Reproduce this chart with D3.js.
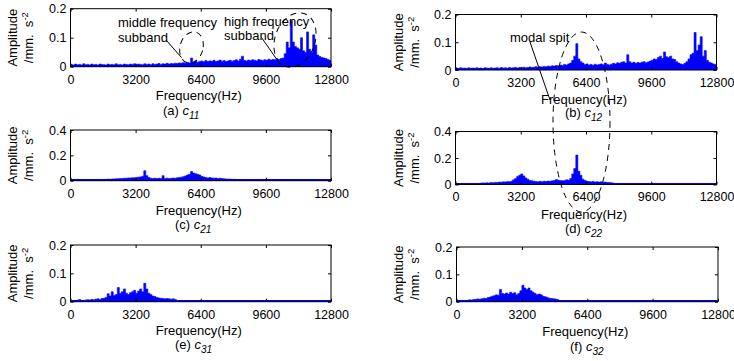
<!DOCTYPE html>
<html>
<head>
<meta charset="utf-8">
<script src="https://cdn.jsdelivr.net/npm/d3@7"></script>
<style>
body { margin: 0; background: #fff; }
svg { display: block; font-family: "Liberation Sans", Arial, sans-serif; }
</style>
</head>
<body>
<svg id="fig" width="734" height="361"></svg>
<script>
// spectrum amplitudes, one value per 100 Hz bin (0 - 12800 Hz)
var binHz = 100;
var freqTicks = [0, 3200, 6400, 9600, 12800];
var ampTicksLow = [0, 0.1, 0.2];
var ampTicksHigh = [0, 0.2, 0.4];

var c11 = [
  0.008,0.006,0.009,0.007,0.008,0.006,0.010,0.007,0.008,0.006,0.009,0.007,0.008,0.006,0.009,0.008,
  0.007,0.006,0.009,0.007,0.008,0.007,0.010,0.007,0.008,0.006,0.009,0.008,0.007,0.009,0.008,0.010,
  0.007,0.009,0.008,0.007,0.010,0.008,0.009,0.007,0.010,0.008,0.009,0.011,0.008,0.010,0.009,0.012,
  0.009,0.011,0.010,0.012,0.011,0.013,0.012,0.014,0.012,0.015,0.013,0.030,0.016,0.020,0.015,0.018,
  0.020,0.017,0.021,0.018,0.020,0.019,0.022,0.018,0.020,0.023,0.019,0.021,0.018,0.020,0.022,0.019,
  0.021,0.024,0.020,0.026,0.036,0.022,0.020,0.023,0.021,0.024,0.022,0.020,0.025,0.023,0.021,0.024,
  0.022,0.026,0.023,0.025,0.024,0.027,0.025,0.028,0.030,0.045,0.085,0.065,0.160,0.085,0.070,0.065,
  0.060,0.100,0.055,0.050,0.120,0.060,0.050,0.110,0.075,0.040,0.035,0.032,0.030,0.028,0.025,0.022
];
var c12 = [
  0.007,0.005,0.008,0.006,0.007,0.005,0.008,0.006,0.007,0.006,0.008,0.006,0.007,0.005,0.008,0.007,
  0.006,0.008,0.006,0.007,0.008,0.006,0.009,0.007,0.008,0.006,0.009,0.007,0.008,0.009,0.007,0.009,
  0.008,0.010,0.008,0.009,0.011,0.009,0.010,0.012,0.010,0.012,0.011,0.013,0.012,0.014,0.013,0.015,
  0.014,0.016,0.015,0.018,0.016,0.020,0.018,0.022,0.025,0.035,0.050,0.095,0.040,0.030,0.025,0.020,
  0.022,0.018,0.020,0.017,0.021,0.018,0.020,0.022,0.019,0.025,0.020,0.018,0.021,0.024,0.022,0.026,
  0.024,0.028,0.030,0.025,0.055,0.030,0.025,0.028,0.024,0.027,0.025,0.028,0.030,0.026,0.029,0.032,
  0.035,0.040,0.038,0.045,0.050,0.042,0.065,0.048,0.045,0.050,0.040,0.038,0.030,0.025,0.022,0.020,
  0.024,0.030,0.040,0.055,0.060,0.135,0.070,0.090,0.120,0.050,0.070,0.035,0.028,0.025,0.022,0.020
];
var c21 = [
  0.003,0.003,0.004,0.003,0.003,0.004,0.003,0.003,0.004,0.003,0.003,0.004,0.003,0.003,0.004,0.003,
  0.004,0.010,0.012,0.011,0.013,0.014,0.015,0.016,0.018,0.017,0.020,0.019,0.022,0.021,0.024,0.023,
  0.026,0.028,0.030,0.035,0.078,0.040,0.025,0.020,0.018,0.020,0.017,0.019,0.018,0.040,0.018,0.020,
  0.017,0.019,0.021,0.020,0.023,0.025,0.028,0.032,0.038,0.045,0.050,0.072,0.060,0.055,0.050,0.045,
  0.035,0.030,0.025,0.022,0.025,0.022,0.020,0.021,0.018,0.020,0.017,0.015,0.014,0.012,0.013,0.010,
  0.011,0.008,0.003,0.003,0.004,0.003,0.003,0.004,0.003,0.003,0.004,0.003,0.003,0.004,0.003,0.003,
  0.004,0.003,0.003,0.004,0.003,0.003,0.004,0.003,0.003,0.004,0.003,0.003,0.004,0.003,0.003,0.004,
  0.003,0.003,0.004,0.003,0.003,0.004,0.003,0.003,0.004,0.003,0.003,0.004,0.003,0.003,0.004,0.003
];
var c22 = [
  0.003,0.003,0.004,0.003,0.003,0.004,0.003,0.003,0.004,0.003,0.003,0.004,0.010,0.012,0.011,0.013,
  0.012,0.015,0.014,0.016,0.015,0.018,0.017,0.020,0.019,0.022,0.020,0.025,0.035,0.045,0.060,0.070,
  0.080,0.065,0.050,0.040,0.030,0.028,0.025,0.022,0.020,0.024,0.021,0.025,0.022,0.026,0.024,0.028,
  0.030,0.037,0.032,0.030,0.028,0.030,0.035,0.032,0.045,0.080,0.120,0.222,0.100,0.070,0.040,0.030,
  0.025,0.022,0.020,0.023,0.019,0.021,0.018,0.020,0.017,0.018,0.015,0.016,0.013,0.010,0.003,0.003,
  0.004,0.003,0.003,0.004,0.003,0.003,0.004,0.003,0.003,0.004,0.003,0.003,0.004,0.003,0.003,0.004,
  0.003,0.003,0.004,0.003,0.003,0.004,0.003,0.003,0.004,0.003,0.003,0.004,0.003,0.003,0.004,0.003,
  0.003,0.004,0.003,0.003,0.004,0.003,0.003,0.004,0.003,0.003,0.004,0.003,0.003,0.004,0.003,0.003
];
var c31 = [
  0.004,0.004,0.004,0.005,0.008,0.004,0.004,0.006,0.007,0.006,0.008,0.007,0.009,0.010,0.008,0.011,
  0.012,0.015,0.028,0.020,0.035,0.022,0.025,0.050,0.030,0.035,0.045,0.030,0.025,0.032,0.035,0.040,
  0.030,0.038,0.045,0.035,0.065,0.045,0.030,0.025,0.020,0.018,0.015,0.013,0.012,0.011,0.010,0.011,
  0.010,0.009,0.010,0.008,0.004,0.004,0.004,0.004,0.004,0.004,0.004,0.004,0.004,0.004,0.004,0.004,
  0.004,0.004,0.004,0.004,0.004,0.004,0.004,0.004,0.004,0.004,0.004,0.004,0.004,0.004,0.004,0.004,
  0.004,0.004,0.004,0.004,0.004,0.004,0.004,0.004,0.004,0.004,0.004,0.004,0.004,0.004,0.004,0.004,
  0.004,0.004,0.004,0.004,0.004,0.004,0.004,0.004,0.004,0.004,0.004,0.004,0.004,0.004,0.004,0.004,
  0.004,0.004,0.004,0.004,0.004,0.004,0.004,0.004,0.004,0.004,0.004,0.004,0.004,0.004,0.004,0.004
];
var c32 = [
  0.004,0.004,0.004,0.004,0.004,0.005,0.007,0.006,0.008,0.009,0.010,0.009,0.011,0.013,0.012,0.015,
  0.017,0.020,0.022,0.025,0.024,0.045,0.030,0.028,0.032,0.028,0.035,0.030,0.033,0.025,0.030,0.040,
  0.060,0.050,0.045,0.050,0.040,0.035,0.030,0.025,0.028,0.025,0.020,0.018,0.015,0.013,0.012,0.011,
  0.010,0.008,0.004,0.004,0.004,0.004,0.004,0.004,0.004,0.004,0.004,0.004,0.004,0.004,0.004,0.004,
  0.004,0.004,0.004,0.004,0.004,0.004,0.004,0.004,0.004,0.004,0.004,0.004,0.004,0.004,0.004,0.004,
  0.004,0.004,0.004,0.004,0.004,0.004,0.004,0.004,0.004,0.004,0.004,0.004,0.004,0.004,0.004,0.004,
  0.004,0.004,0.004,0.004,0.004,0.004,0.004,0.004,0.004,0.004,0.004,0.004,0.004,0.004,0.004,0.004,
  0.004,0.004,0.004,0.004,0.004,0.004,0.004,0.004,0.004,0.004,0.004,0.004,0.004,0.004,0.004,0.004
];

// panel layout (pixels)
var panels = [
  { tag: 'a', sub: '11', data: c11, ymax: 0.2, ticks: ampTicksLow,  l: 70.5, r: 331, t: 8.7,  b: 66.7, fy: 95.2,  cy: 110, cx: 163, yl: 12.5 },
  { tag: 'b', sub: '12', data: c12, ymax: 0.2, ticks: ampTicksLow,  l: 455.5, r: 716.5, t: 14.5, b: 70, fy: 99,  cy: 112.5, cx: 565, yl: 398 },
  { tag: 'c', sub: '21', data: c21, ymax: 0.4, ticks: ampTicksHigh, l: 70.5, r: 331, t: 130, b: 180.7, fy: 210.7, cy: 224.5, cx: 175, yl: 12.5 },
  { tag: 'd', sub: '22', data: c22, ymax: 0.4, ticks: ampTicksHigh, l: 455.5, r: 716.5, t: 131.5, b: 184.5, fy: 214, cy: 228, cx: 565, yl: 398 },
  { tag: 'e', sub: '31', data: c31, ymax: 0.2, ticks: ampTicksLow,  l: 70.5, r: 331, t: 245, b: 301.7, fy: 330, cy: 344.5, cx: 175, yl: 12.5 },
  { tag: 'f', sub: '32', data: c32, ymax: 0.2, ticks: ampTicksLow,  l: 456.5, r: 718, t: 247, b: 301.7, fy: 331.7, cy: 346, cx: 570, yl: 398 }
];

var svg = d3.select('#fig');
var blue = '#0000ff';

panels.forEach(function (p, k) { create_panel(p, k); });

function create_panel(p, k) {
  var x = d3.scaleLinear().domain([0, 12800]).range([p.l, p.r]);
  var y = d3.scaleLinear().domain([0, p.ymax]).range([p.b, p.t]);

  svg.append('clipPath').attr('id', 'clip' + k)
    .append('rect').attr('x', p.l).attr('y', p.t).attr('width', p.r - p.l).attr('height', p.b - p.t);

  var g = svg.append('g').attr('clip-path', 'url(#clip' + k + ')');

  // spectrum: one solid step per 100 Hz bin
  var pts = p.data.map(function (v, i) { return { f: i * binHz, v: v }; });
  pts.push({ f: 12800, v: p.data[p.data.length - 1] });
  g.append('path')
    .datum(pts)
    .attr('fill', blue)
    .attr('stroke', blue)
    .attr('stroke-width', 0.6)
    .attr('d', d3.area().curve(d3.curveStepAfter)
      .x(function (d) { return x(d.f); })
      .y0(y(0))
      .y1(function (d) { return y(d.v); }));

  // noise floor line along the bottom
  g.append('line')
    .attr('x1', x(0)).attr('x2', x(12800))
    .attr('y1', y(0) - 0.8).attr('y2', y(0) - 0.8)
    .attr('stroke', blue).attr('stroke-width', 1.6);

  var fmt = function (d) { return d === 0 ? '0' : String(d); };

  svg.append('g').attr('transform', 'translate(0,' + p.b + ')')
    .call(d3.axisBottom(x).tickValues(freqTicks).tickFormat(d3.format('d')).tickSizeInner(-3).tickSizeOuter(0).tickPadding(8))
    .call(style_axis);
  svg.append('g').attr('transform', 'translate(0,' + p.t + ')')
    .call(d3.axisTop(x).tickValues(freqTicks).tickSizeInner(-3).tickSizeOuter(0).tickFormat(''))
    .call(style_axis);
  svg.append('g').attr('transform', 'translate(' + p.l + ',0)')
    .call(d3.axisLeft(y).tickValues(p.ticks).tickFormat(fmt).tickSizeInner(-3).tickSizeOuter(0).tickPadding(4))
    .call(style_axis);
  svg.append('g').attr('transform', 'translate(' + p.r + ',0)')
    .call(d3.axisRight(y).tickValues(p.ticks).tickSizeInner(-3).tickSizeOuter(0).tickFormat(''))
    .call(style_axis);

  svg.append('rect')
    .attr('x', p.l).attr('y', p.t).attr('width', p.r - p.l).attr('height', p.b - p.t)
    .attr('fill', 'none').attr('stroke', '#000').attr('stroke-width', 1);

  svg.append('text')
    .attr('x', (p.l + p.r) / 2 - 2).attr('y', p.fy).attr('dy', '0.35em')
    .attr('text-anchor', 'middle').style('font-size', '13px')
    .text('Frequency(Hz)');

  var cap = svg.append('text').attr('x', p.cx).attr('y', p.cy).attr('dy', '0.35em').style('font-size', '13px');
  cap.append('tspan').text('(' + p.tag + ') ');
  cap.append('tspan').style('font-style', 'italic').text('c');
  cap.append('tspan').style('font-style', 'italic').style('font-size', '10px').attr('dy', '4').text(p.sub);

  var my = (p.t + p.b) / 2;
  svg.append('text')
    .attr('transform', 'translate(' + p.yl + ',' + my + ') rotate(-90)')
    .attr('dy', '0.35em').attr('text-anchor', 'middle').style('font-size', '13px')
    .text('Amplitude');
  var u = svg.append('text')
    .attr('transform', 'translate(' + (p.yl + 16) + ',' + my + ') rotate(-90)')
    .attr('dy', '0.35em').attr('text-anchor', 'middle').style('font-size', '13px');
  u.append('tspan').text('/mm.\u00a0\u00a0s');
  u.append('tspan').attr('dy', '-5').style('font-size', '9.5px').text('-2');
}

function style_axis(sel) {
  sel.select('.domain').remove();
  sel.selectAll('.tick line').attr('stroke', '#000');
  sel.selectAll('.tick text').attr('fill', '#000')
    .style('font-size', '12.5px').style('font-family', '"Liberation Sans", Arial, sans-serif');
}

// annotations
var notes = [
  { x: 118, y: 27, s: 'middle frequency' },
  { x: 118, y: 42, s: 'subband' },
  { x: 224, y: 25.5, s: 'high frequency' },
  { x: 224, y: 39.5, s: 'subband' },
  { x: 510, y: 42, s: 'modal spit' }
];
svg.selectAll('text.note').data(notes).enter().append('text')
  .attr('class', 'note')
  .attr('x', function (d) { return d.x; })
  .attr('y', function (d) { return d.y; })
  .style('font-size', '13px')
  .text(function (d) { return d.s; });

var leaders = [
  [166, 40, 181.5, 57.5],
  [261.5, 37.5, 276.5, 59],
  [530, 42, 550, 100]
];
svg.selectAll('line.lead').data(leaders).enter().append('line')
  .attr('x1', function (d) { return d[0]; }).attr('y1', function (d) { return d[1]; })
  .attr('x2', function (d) { return d[2]; }).attr('y2', function (d) { return d[3]; })
  .attr('stroke', '#000').attr('stroke-width', 1);

var rings = [
  { cx: 191.5, cy: 47.5, rx: 11.5, ry: 16, rot: 15 },
  { cx: 295, cy: 40, rx: 20, ry: 28, rot: 20 },
  { cx: 581.5, cy: 122, rx: 28.5, ry: 90, rot: 0 }
];
svg.selectAll('ellipse.ring').data(rings).enter().append('ellipse')
  .attr('transform', function (d) { return 'translate(' + d.cx + ',' + d.cy + ') rotate(' + d.rot + ')'; })
  .attr('rx', function (d) { return d.rx; }).attr('ry', function (d) { return d.ry; })
  .attr('fill', 'none').attr('stroke', '#000').attr('stroke-width', 1)
  .attr('stroke-dasharray', '6,5');
</script>
</body>
</html>
